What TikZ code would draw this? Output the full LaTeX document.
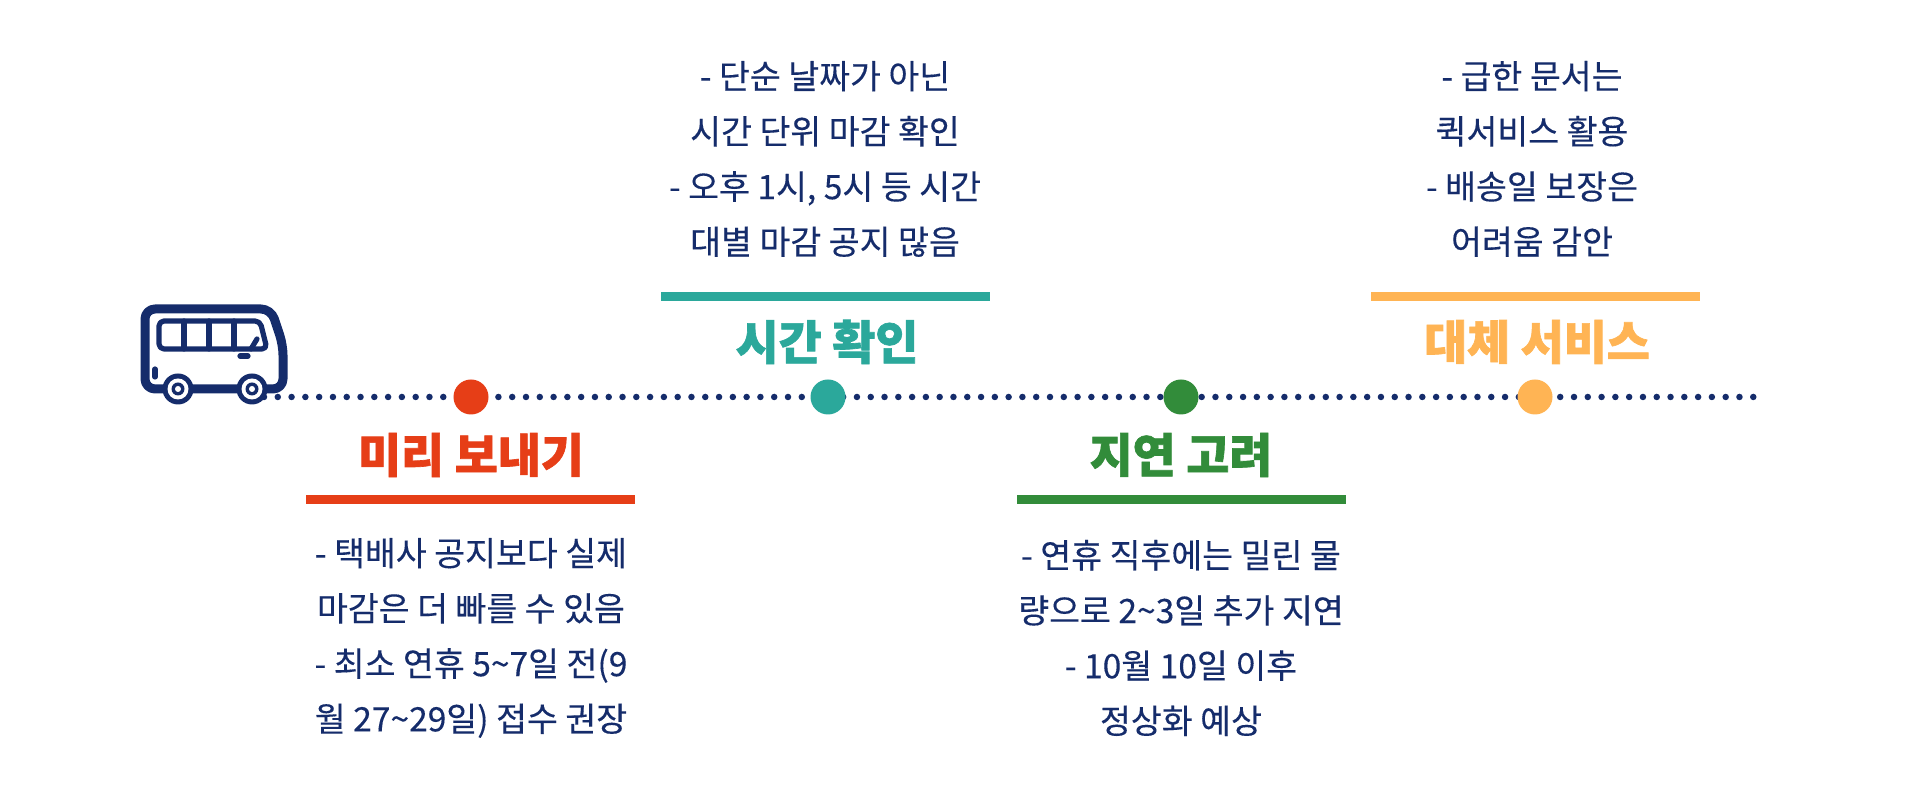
\documentclass[tikz,border=0pt]{standalone}
\usepackage{fontspec}
\setmainfont{Noto Sans CJK KR}[FakeBold=0.25,BoldFeatures={FakeBold=1.4}]
\usepackage{tikz}
\definecolor{navy}{HTML}{152C6B}
\definecolor{stagered}{HTML}{E63E17}
\definecolor{stageteal}{HTML}{2BA89B}
\definecolor{stagegreen}{HTML}{328C3A}
\definecolor{stageorange}{HTML}{FFB454}
\tikzset{
	busline/.style={navy, line width=0.09cm, line join=round},
	busthin/.style={navy, line width=0.052cm, line cap=round, line join=round},
	dotline/.style={navy, line width=0.065cm, line cap=round, dash pattern=on 0pt off 0.1379cm},
	stagemark/.style={circle, fill=#1, minimum size=0.35cm, inner sep=0pt},
	stagebar/.style={fill=#1, minimum width=3.29cm, minimum height=0.09cm, inner sep=0pt},
	stagetitle/.style={text=#1, font=\fontsize{13.3}{16}\selectfont\bfseries, inner sep=0pt},
	stagenote/.style={text=navy, align=center, font=\fontsize{9.55}{15.7}\selectfont, inner sep=0pt}
}

\begin{document}
\begin{tikzpicture}
	\useasboundingbox (0,0) rectangle (19.2,7.98);

	% Dotted time line, the marks sit on top of it
	\coordinate (busrear) at (2.64,4.01);
	\coordinate (lineend) at (17.55,4.01);
	\draw[dotline] (busrear) -- (lineend);

	\node[stagemark=stagered] (markred) at (4.71,4.01) {};
	\node[stagemark=stageteal] (markteal) at (8.28,4.01) {};
	\node[stagemark=stagegreen] (markgreen) at (11.81,4.01) {};
	\node[stagemark=stageorange] (markorange) at (15.35,4.01) {};

	% Bus
	\draw[busline, rounded corners=0.1cm] (1.45,4.5) -- (1.45,4.89) -- (2.71,4.89) -- (2.83,4.53) -- (2.83,4.09) -- (1.45,4.09) -- cycle;
	\draw[busthin, rounded corners=0.05cm] (1.59,4.49) -- (1.59,4.77) -- (2.60,4.77) -- (2.67,4.49) -- cycle;
	\draw[busthin] (1.84,4.77) -- (1.84,4.49);
	\draw[busthin] (2.09,4.77) -- (2.09,4.49);
	\draw[busthin] (2.34,4.77) -- (2.34,4.49);
	\draw[busthin] (2.51,4.49) -- (2.57,4.59);
	\draw[busthin] (2.40,4.42) -- (2.48,4.42);
	\draw[busthin] (1.55,4.29) -- (1.55,4.21);
	\foreach \wheelx in {1.78,2.52} {
		\fill[navy] (\wheelx,4.09) circle (0.155);
		\fill[white] (\wheelx,4.09) circle (0.105);
		\fill[navy] (\wheelx,4.09) circle (0.065);
		\fill[white] (\wheelx,4.09) circle (0.03);
	}

	% Stages below the line
	\node[stagetitle=stagered] (titlered) at (4.71,3.43) {미리 보내기};
	\node[stagebar=stagered] (barred) at (4.705,2.98) {};
	\node[stagenote] (notered) at (4.71,1.60) {- 택배사 공지보다 실제\\마감은 더 빠를 수 있음\\- 최소 연휴 5\textasciitilde 7일 전(9\\월 27\textasciitilde 29일) 접수 권장};

	\node[stagetitle=stagegreen] (titlegreen) at (11.81,3.43) {지연 고려};
	\node[stagebar=stagegreen] (bargreen) at (11.81,2.98) {};
	\node[stagenote] (notegreen) at (11.81,1.60) {- 연휴 직후에는 밀린 물\\량으로 2\textasciitilde 3일 추가 지연\\- 10월 10일 이후\\정상화 예상};

	% Stages above the line
	\node[stagetitle=stageteal] (titleteal) at (8.27,4.56) {시간 확인};
	\node[stagebar=stageteal] (barteal) at (8.255,5.01) {};
	\node[stagenote] (noteteal) at (8.25,6.39) {- 단순 날짜가 아닌\\시간 단위 마감 확인\\- 오후 1시, 5시 등 시간\\대별 마감 공지 많음};

	\node[stagetitle=stageorange] (titleorange) at (15.37,4.56) {대체 서비스};
	\node[stagebar=stageorange] (barorange) at (15.355,5.01) {};
	\node[stagenote] (noteorange) at (15.32,6.39) {- 급한 문서는\\퀵서비스 활용\\- 배송일 보장은\\어려움 감안};
\end{tikzpicture}
\end{document}
